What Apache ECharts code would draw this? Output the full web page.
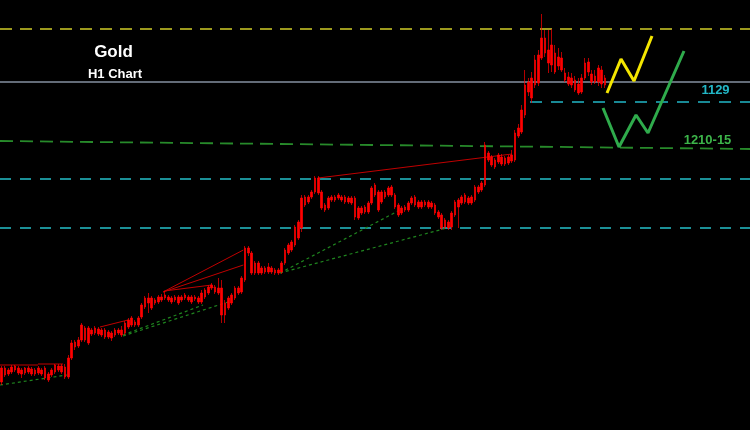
<!DOCTYPE html>
<html><head><meta charset="utf-8">
<script src="https://cdn.jsdelivr.net/npm/echarts@6/dist/echarts.min.js"></script>
<style>html,body{margin:0;padding:0;background:#000}#c{width:750px;height:430px}</style>
</head><body><div id="c"></div>
<script>
// Hourly gold candles (price units)
const openP = [
1018,1032,1026,1028,1034,1032,1026,1032,1028,1031,
1026,1032,1026,1032,1026,1025,1028,1034,1028,1033,
1023,1042,1058,1054,1060,1072,1072,1066,1067,1071,
1065,1070,1068,1067,1065,1070,1065,1067,1073,1075,
1078,1075,1083,1093,1102,1102,1097,1098,1103,1102,
1103,1102,1100,1103,1100,1102,1103,1103,1101,1102,
1098,1103,1107,1112,1113,1112,1112,1097,1092,1097,
1102,1112,1108,1120,1147,1147,1137,1127,1132,1128,
1133,1128,1130,1127,1128,1137,1147,1150,1155,1162,
1172,1203,1198,1203,1208,1222,1208,1195,1192,1200,
1203,1202,1203,1203,1198,1202,1202,1182,1192,1188,
1188,1197,1205,1208,1198,1208,1205,1213,1205,1195,
1192,1190,1190,1197,1203,1198,1193,1198,1193,1197,
1195,1188,1185,1173,1178,1173,1185,1193,1197,1198,
1202,1197,1200,1213,1210,1215,1247,1243,1240,1238,
1243,1236,1243,1239,1240,1264,1268,1285,1318,1302,
1315,1317,1342,1362,1350,1335,1347,1334,1342,1327,
1323,1315,1320,1316,1308,1322,1338,1326,1318,1318,1330,1315];
const closeP = [
1032,1025,1030,1033,1030,1027,1030,1027,1032,1026,
1030,1027,1030,1022,1020,1030,1035,1030,1034,1023,
1042,1057,1053,1060,1075,1060,1057,1070,1072,1066,
1070,1063,1063,1062,1070,1067,1070,1077,1080,1082,
1075,1082,1095,1102,1097,1092,1100,1103,1100,1105,
1100,1098,1103,1097,1103,1105,1100,1098,1103,1098,
1107,1110,1113,1115,1108,1107,1085,1085,1102,1105,
1112,1107,1122,1152,1152,1127,1127,1137,1127,1132,
1128,1132,1127,1130,1137,1150,1155,1158,1173,1178,
1202,1195,1203,1208,1222,1207,1192,1190,1202,1203,
1200,1205,1200,1198,1202,1197,1183,1192,1187,1193,
1197,1212,1215,1190,1208,1203,1212,1205,1193,1185,
1187,1193,1197,1202,1195,1193,1198,1195,1198,1193,
1187,1183,1172,1180,1172,1187,1198,1200,1203,1205,
1197,1203,1213,1208,1217,1255,1240,1235,1233,1245,
1236,1242,1237,1245,1267,1272,1290,1315,1308,1322,
1340,1345,1362,1347,1337,1355,1328,1343,1330,1320,
1316,1322,1310,1307,1322,1337,1328,1318,1324,1332,1316,1322];
const lowP = [
1015,1023,1024,1026,1028,1025,1022,1025,1026,1024,
1024,1025,1024,1020,1018,1023,1026,1028,1026,1021,
1021,1040,1050,1052,1058,1058,1055,1064,1065,1064,
1063,1061,1061,1059,1063,1065,1063,1065,1071,1073,
1073,1073,1081,1091,1087,1090,1095,1096,1098,1100,
1098,1096,1098,1095,1098,1100,1098,1096,1099,1096,
1096,1101,1105,1110,1106,1105,1077,1077,1090,1095,
1100,1105,1106,1118,1144,1125,1125,1125,1125,1126,
1126,1126,1125,1125,1126,1135,1145,1148,1153,1160,
1168,1193,1196,1201,1206,1205,1190,1188,1190,1198,
1198,1200,1198,1196,1196,1195,1180,1180,1185,1186,
1186,1195,1203,1188,1196,1201,1203,1203,1191,1183,
1185,1188,1188,1195,1193,1191,1191,1193,1191,1191,
1185,1181,1170,1171,1170,1170,1183,1172,1195,1196,
1195,1195,1198,1206,1208,1213,1238,1233,1231,1236,
1234,1234,1235,1237,1238,1262,1266,1282,1304,1297,
1312,1314,1340,1343,1327,1328,1326,1330,1328,1318,
1314,1312,1308,1305,1306,1320,1324,1315,1316,1314,1312,1312];
const highP = [
1034,1034,1032,1035,1035,1034,1032,1033,1034,1033,
1032,1034,1032,1034,1028,1032,1036,1036,1036,1036,
1045,1060,1060,1063,1077,1074,1074,1072,1074,1073,
1072,1072,1070,1069,1072,1072,1074,1079,1082,1084,
1080,1084,1097,1104,1107,1104,1102,1105,1106,1109,
1105,1104,1105,1105,1105,1107,1105,1105,1105,1104,
1110,1112,1115,1117,1115,1122,1120,1100,1104,1107,
1114,1114,1124,1154,1154,1149,1139,1139,1134,1134,
1137,1134,1132,1132,1139,1152,1157,1160,1175,1180,
1205,1205,1205,1210,1224,1224,1210,1197,1204,1205,
1205,1207,1205,1205,1204,1204,1204,1194,1194,1195,
1199,1214,1217,1210,1210,1210,1214,1215,1207,1197,
1194,1195,1199,1204,1205,1200,1200,1200,1200,1199,
1197,1190,1187,1182,1180,1189,1200,1202,1205,1207,
1204,1205,1215,1215,1219,1258,1249,1245,1242,1247,
1246,1244,1245,1250,1270,1276,1295,1330,1322,1328,
1345,1350,1386,1370,1370,1371,1355,1352,1348,1332,
1328,1327,1324,1322,1326,1342,1342,1330,1330,1335,1334,1325];

const slotCount = 225; // bars incl. empty future slots
const categories = Array.from({length: slotCount}, (_, i) => 'H' + (i + 1));

// Horizontal levels
const levelOlive = 1371;
const levelGray = 1318;
const levelCyan = 1298;
const levelCyanFrom = 158.5;
const levelTeal = [1221, 1172];
const levelGreenSlant = [1259, 1251];

// Trend lines [barIndex, price]
const redTrends = [
  [[-0.5,1035],[10.9,1035]],
  [[10.9,1036],[18.4,1036]],
  [[29.5,1073],[37.9,1080]],
  [[48.4,1108],[72.5,1150]],
  [[48.4,1108],[72.5,1135]],
  [[48.8,1109],[63.0,1115],[63.5,1112]],
  [[94.9,1222],[153.1,1246]]
];
const greenTrends = [
  [[-0.5,1015],[19.6,1025]],
  [[36.4,1065],[60.4,1095]],
  [[36.4,1064],[67.9,1098]],
  [[83.5,1127],[119.5,1190]],
  [[83.5,1127],[133.6,1172]]
];
// Projections
const yellowPath = [[181.6,1307],[185.8,1341],[189.7,1319],[195.1,1364]];
const greenPath = [[180.4,1292],[185.2,1253],[190.3,1285],[193.9,1267],[204.7,1349]];

const candles = openP.map((o, i) => [o, closeP[i], lowP[i], highP[i]]);
const xMax = slotCount - 0.5;

function seg(points, color, width, type, z) {
  return {type:'line', xAxisIndex:1, data:points, symbol:'none', showSymbol:false,
    silent:true, z:z, lineStyle:{color:color, width:width, type:type}};
}

const series = [
  seg([[-0.5,levelOlive],[xMax,levelOlive]], '#9c9a1e', 2, [12,8], 1),
  seg([[-0.5,levelGray],[xMax,levelGray]], '#8491a0', 1.5, 'solid', 1),
  seg([[levelCyanFrom,levelCyan],[xMax,levelCyan]], '#22b6c6', 1.5, [12,9], 1),
  seg([[-0.5,levelGreenSlant[0]],[xMax,levelGreenSlant[1]]], '#278a2a', 1.8, [13,7], 1),
  seg([[-0.5,levelTeal[0]],[xMax,levelTeal[0]]], '#1b9097', 2, [11,9], 1),
  seg([[-0.5,levelTeal[1]],[xMax,levelTeal[1]]], '#1b9097', 2, [11,9], 1),
  {type:'candlestick', data:candles, barWidth:2.4, z:3,
   itemStyle:{color:'#ff0000', color0:'#ff0000', borderColor:'#ff0000', borderColor0:'#ff0000', borderWidth:0.7}}
];
redTrends.forEach(p => series.push(seg(p, '#c00000', 1, 'solid', 2)));
greenTrends.forEach(p => series.push(seg(p, '#1f851f', 1.2, [3,3], 2)));
series.push(seg(yellowPath, '#f4e600', 3, 'solid', 4));
series.push(seg(greenPath, '#2fab4c', 3, 'solid', 4));

const chart = echarts.init(document.getElementById('c'), null, {renderer:'canvas'});
chart.setOption({
  backgroundColor:'#000',
  animation:false,
  grid:{left:0,right:0,top:0,bottom:0},
  xAxis:[
    {type:'category', data:categories, show:false, boundaryGap:true},
    {type:'value', min:-0.5, max:xMax, show:false}
  ],
  yAxis:{type:'value', min:970, max:1400, show:false, splitLine:{show:false}},
  series:series,
  graphic:[
    {type:'text', x:113.5, y:52, style:{text:'Gold', fill:'#ffffff', font:'bold 17px "Liberation Sans", Arial', align:'center', verticalAlign:'middle'}},
    {type:'text', x:115, y:74, style:{text:'H1 Chart', fill:'#ffffff', font:'bold 13px "Liberation Sans", Arial', align:'center', verticalAlign:'middle'}},
    {type:'text', x:715.5, y:90, style:{text:'1129', fill:'#22b6c6', font:'bold 13px "Liberation Sans", Arial', align:'center', verticalAlign:'middle'}},
    {type:'text', x:707.5, y:140, style:{text:'1210-15', fill:'#3db54a', font:'bold 13px "Liberation Sans", Arial', align:'center', verticalAlign:'middle'}}
  ]
});
</script>
</body></html>
